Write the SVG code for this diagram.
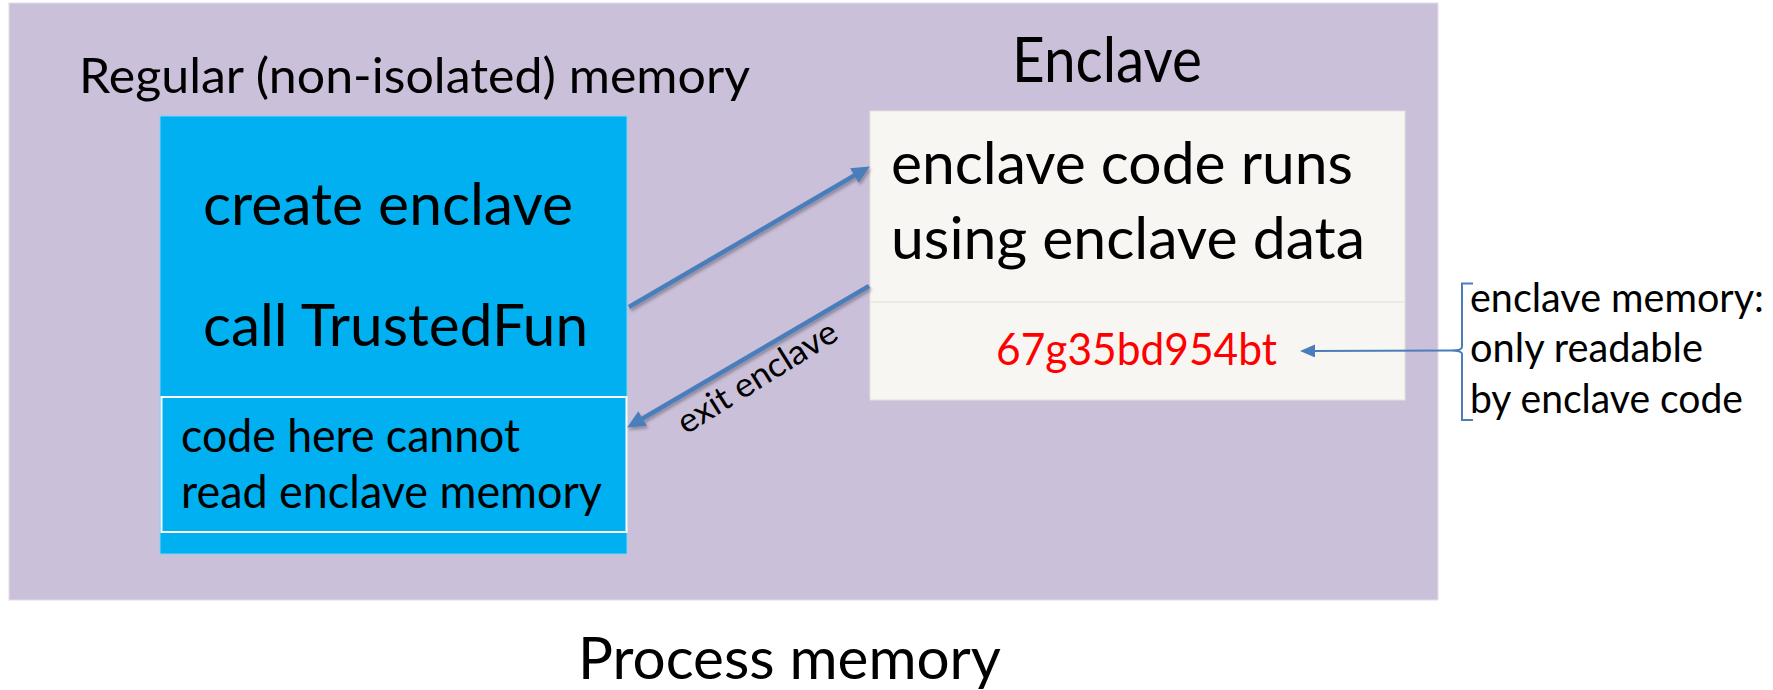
<svg xmlns="http://www.w3.org/2000/svg" width="1773" height="690" viewBox="0 0 1773 690">
  <style>
    text { font-family: Lato, "Liberation Sans", "DejaVu Sans", sans-serif; fill: #000; }
    .title { font-size: 48px; }
    .big { font-size: 59px; }
    .small { font-size: 47px; }
    .note { font-size: 40px; }
    .conn { stroke: #4A7EBB; fill: none; }
  </style>
  <defs>
    <filter id="shadow" x="-10%" y="-10%" width="130%" height="140%">
      <feDropShadow dx="1.5" dy="2.5" stdDeviation="1.5" flood-color="#000" flood-opacity="0.3"/>
    </filter>
    <marker id="head" markerUnits="userSpaceOnUse" markerWidth="20" markerHeight="20" refX="7" refY="8.5" orient="auto">
      <path d="M0,0 L18,8.5 L0,17 z" fill="#4A7EBB"/>
    </marker>
    <marker id="headThin" markerUnits="userSpaceOnUse" markerWidth="16" markerHeight="14" refX="4" refY="6.5" orient="auto">
      <path d="M0,0 L15,6.5 L0,13 z" fill="#4A7EBB"/>
    </marker>
  </defs>

  <!-- process memory area -->
  <g id="process-memory">
    <rect x="9" y="3" width="1429" height="597" fill="#CBC0DA" stroke="#E2DEE8" stroke-width="1"/>
    <text x="578" y="679" style="font-size:58px" textLength="423" lengthAdjust="spacingAndGlyphs">Process memory</text>
  </g>

  <!-- regular (non-isolated) memory -->
  <g id="regular-memory">
    <text class="title" x="79" y="93" textLength="671" lengthAdjust="spacingAndGlyphs">Regular (non-isolated) memory</text>
    <rect x="160" y="116" width="467" height="438" fill="#00B0F0" stroke="#7FD3F5" stroke-width="1"/>
    <text class="big" x="203" y="225" textLength="370" lengthAdjust="spacingAndGlyphs">create enclave</text>
    <text class="big" x="203" y="346" textLength="385" lengthAdjust="spacingAndGlyphs">call TrustedFun</text>
    <rect x="161.5" y="397" width="465" height="135" fill="#00B0F0" stroke="#FFFFFF" stroke-width="2"/>
    <text class="small" x="181" y="452" textLength="339" lengthAdjust="spacingAndGlyphs">code here cannot</text>
    <text class="small" x="181" y="508" textLength="421" lengthAdjust="spacingAndGlyphs">read enclave memory</text>
  </g>

  <!-- enclave -->
  <g id="enclave">
    <text x="1012" y="82" style="font-size:62px" textLength="190" lengthAdjust="spacingAndGlyphs">Enclave</text>
    <rect x="870" y="111" width="535" height="289" fill="#F7F6F2" stroke="#E4E1DA" stroke-width="1"/>
    <line x1="870" y1="302" x2="1405" y2="302" stroke="#E9E6E0" stroke-width="1.5"/>
    <text class="big" x="891" y="184" textLength="462" lengthAdjust="spacingAndGlyphs">enclave code runs</text>
    <text class="big" x="891" y="259" textLength="474" lengthAdjust="spacingAndGlyphs">using enclave data</text>
    <text x="996" y="365" style="font-size:44px; fill:#FF0000" textLength="281" lengthAdjust="spacingAndGlyphs">67g35bd954bt</text>
  </g>

  <!-- enclave memory note -->
  <g id="note">
    <path class="conn" stroke-width="2" d="M1473,283.5 L1462,283.5 L1462,347 Q1462,350.5 1451,350.5 Q1462,350.5 1462,354 L1462,420 L1473,420"/>
    <text class="note" x="1470" y="312" textLength="294" lengthAdjust="spacingAndGlyphs">enclave memory:</text>
    <text class="note" x="1470" y="362" textLength="233" lengthAdjust="spacingAndGlyphs">only readable</text>
    <text class="note" x="1470" y="413" textLength="273" lengthAdjust="spacingAndGlyphs">by enclave code</text>
  </g>

  <!-- connectors -->
  <g id="connectors">
    <g filter="url(#shadow)">
      <line class="conn" stroke-width="4.5" x1="629" y1="307" x2="860.4" y2="172" marker-end="url(#head)"/>
      <line class="conn" stroke-width="4.5" x1="869" y1="286" x2="636.6" y2="422" marker-end="url(#head)"/>
    </g>
    <text x="686" y="435" transform="rotate(-32 686 435)" style="font-size:34px" textLength="182" lengthAdjust="spacingAndGlyphs">exit enclave</text>
    <line class="conn" stroke-width="2" x1="1451" y1="350.5" x2="1311" y2="351" marker-end="url(#headThin)"/>
  </g>
</svg>
